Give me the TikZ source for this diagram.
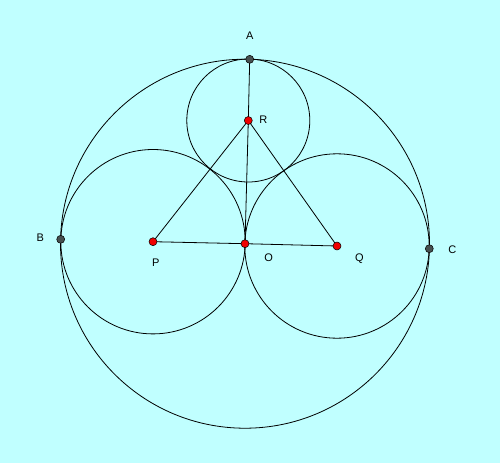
\documentclass[tikz,border=0pt]{standalone}
\usepackage{fontspec}
\setmainfont{Liberation Sans}
\definecolor{bgcyan}{RGB}{192,255,255}
\definecolor{ptgray}{RGB}{70,80,80}
\definecolor{ptred}{RGB}{240,0,0}

\begin{document}
\begin{tikzpicture}[x=1pt,y=-1pt,line width=0.8pt,
  dot/.style={circle,draw=black,line width=0.5pt,inner sep=0pt,minimum size=8pt},
  reddot/.style={dot,fill=ptred},
  graydot/.style={dot,fill=ptgray},
  lbl/.style={font=\fontsize{11}{13}\selectfont}]
  \fill[bgcyan] (0,0) rectangle (500,463);
  \useasboundingbox (0,0) rectangle (500,463);
  \coordinate (A) at (249.7,59.3);
  \coordinate (B) at (60.7,239.3);
  \coordinate (C) at (429.3,248.7);
  \coordinate (O) at (245,243.7);
  \coordinate (P) at (153,241.7);
  \coordinate (Q) at (337,246);
  \coordinate (R) at (248.3,120.5);
  % circles
  \draw (O) circle [radius=184.5pt];
  \draw (P) circle [radius=92.2pt];
  \draw (Q) circle [radius=92.2pt];
  \draw (R) circle [radius=61.5pt];
  % triangle and the line through A
  \draw (A) -- (R) -- (O);
  \draw (P) -- (R) -- (Q);
  \draw (P) -- (O) -- (Q);
  % points
  \node[graydot] at (A) {};
  \node[graydot] at (B) {};
  \node[graydot] at (C) {};
  \node[reddot] at (R) {};
  \node[reddot] at (P) {};
  \node[reddot] at (O) {};
  \node[reddot] at (Q) {};
  % labels
  \node[lbl] (labA) at (249.7,35.5) {A};
  \node[lbl] (labB) at (40.3,237.5) {B};
  \node[lbl] (labC) at (452.3,250) {C};
  \node[lbl] (labO) at (268.7,257.7) {O};
  \node[lbl] (labP) at (155.7,262.7) {P};
  \node[lbl] (labQ) at (359.3,259) {Q};
  \node[lbl] (labR) at (263.3,119.3) {R};
\end{tikzpicture}
\end{document}
